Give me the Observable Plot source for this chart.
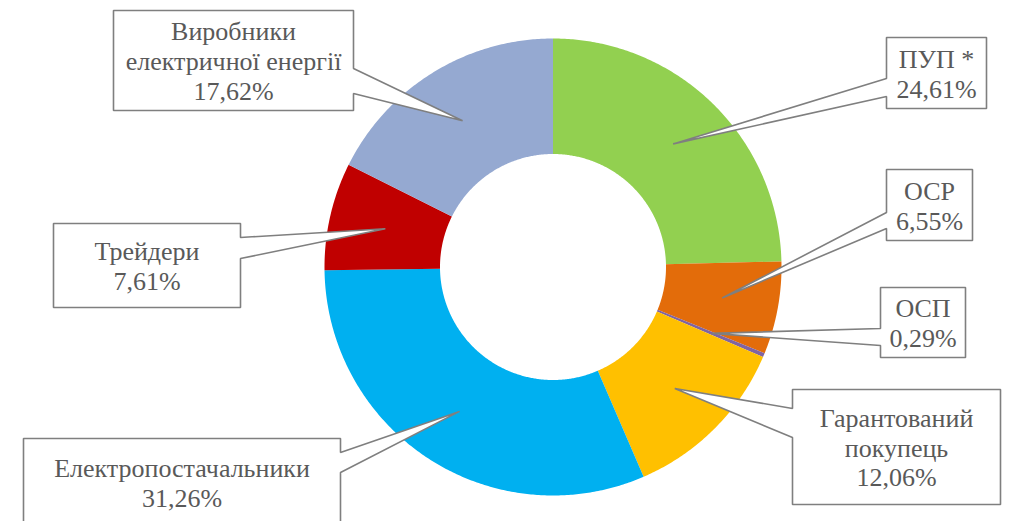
<!DOCTYPE html>
<html>
<head>
<meta charset="utf-8">
<script src="https://cdn.jsdelivr.net/npm/d3@7"></script>
<script src="https://cdn.jsdelivr.net/npm/@observablehq/plot@0.6"></script>
<style>
  html, body { margin: 0; padding: 0; background: #fff; overflow: hidden; }
</style>
</head>
<body>
<div id="chart"></div>
<script>
// ---- data ----
const categories = ["ПУП *", "ОСР", "ОСП", "Гарантований\nпокупець", "Електропостачальники", "Трейдери", "Виробники\nелектричної енергії"];
const shares = [24.61, 6.55, 0.29, 12.06, 31.26, 7.61, 17.62];
const colors = ["#92D050", "#E36C0A", "#8064A2", "#FFC000", "#00B0F0", "#C00000", "#95A9D1"];

// ---- layout (not data) ----
const W = 1023, H = 521;
const cx = 552.5, cy = 266.5, rOut = 228.5, rIn = 113, rTip = 172;
// callout boxes: [x0, x1, y0, y1, side of wedge, wedge y-from, wedge y-to]
const boxes = [
  [886, 986, 37, 108, "left", 78, 96],
  [886, 972, 169, 240, "left", 212, 228],
  [880, 965, 287, 357, "left", 328, 345],
  [792, 1000, 389, 504, "left", 408, 437],
  [23, 340, 438, 530, "right", 452, 472],
  [53, 240, 223, 307, "right", 237, 258],
  [113, 353, 10, 110, "right", 68, 93]
];

const fmt = v => d3.format(".2f")(v).replace(".", ",");
const total = d3.sum(shares);

// slice polygons from the data through d3.pie angles
const pie = d3.pie().sort(null).value(d => d)(shares);
const slicePts = [];
const tips = [];
pie.forEach((p, i) => {
  const a0 = p.startAngle, a1 = p.endAngle;
  const n = Math.max(2, Math.ceil((a1 - a0) / (Math.PI / 360)));
  for (let k = 0; k <= n; k++) {
    const a = a0 + (a1 - a0) * k / n;
    slicePts.push({cat: categories[i], x: cx + rOut * Math.sin(a), y: cy - rOut * Math.cos(a)});
  }
  for (let k = n; k >= 0; k--) {
    const a = a0 + (a1 - a0) * k / n;
    slicePts.push({cat: categories[i], x: cx + rIn * Math.sin(a), y: cy - rIn * Math.cos(a)});
  }
  const am = (a0 + a1) / 2;
  tips.push([cx + rTip * Math.sin(am), cy - rTip * Math.cos(am)]);
});

// callout polygons (box + wedge toward slice centroid)
const calloutPts = [];
const labels = [];
boxes.forEach((b, i) => {
  const [x0, x1, y0, y1, side, w0, w1] = b;
  const [tx, ty] = tips[i];
  let pts;
  if (side === "right") {
    pts = [[x0, y0], [x1, y0], [x1, w0], [tx, ty], [x1, w1], [x1, y1], [x0, y1]];
  } else {
    pts = [[x0, y0], [x1, y0], [x1, y1], [x0, y1], [x0, w1], [tx, ty], [x0, w0]];
  }
  pts.forEach(([x, y]) => calloutPts.push({id: i, x, y}));
  labels.push({x: (x0 + x1) / 2, y: (y0 + Math.min(y1, 526)) / 2, text: categories[i] + "\n" + fmt(shares[i] / total * 100) + "%"});
});

const plot = Plot.plot({
  width: W, height: H,
  marginTop: 0, marginRight: 0, marginBottom: 0, marginLeft: 0,
  x: {domain: [0, W], range: [0, W], axis: null},
  y: {domain: [0, H], range: [0, H], axis: null},
  color: {domain: categories, range: colors},
  marks: [
    Plot.line(slicePts, {x: "x", y: "y", z: "cat", fill: "#000", fillOpacity: 0.3, stroke: null, dy: 2, curve: "linear-closed", ariaLabel: "donut-shadow"}),
    Plot.line(slicePts, {x: "x", y: "y", z: "cat", fill: "cat", curve: "linear-closed"}),
    Plot.line(calloutPts, {x: "x", y: "y", z: "id", fill: "#000", fillOpacity: 0.18, stroke: "#000", strokeOpacity: 0.18, strokeWidth: 1.6, dx: 1.5, dy: 1.5, curve: "linear-closed", ariaLabel: "callout-shadow"}),
    Plot.line(calloutPts, {x: "x", y: "y", z: "id", fill: "#fff", stroke: "#7F7F7F", strokeWidth: 1.6, curve: "linear-closed", strokeLinejoin: "miter"}),
    Plot.text(labels, {x: "x", y: "y", text: "text", fontSize: 26, lineHeight: 1.15, fontFamily: "Liberation Serif", fill: "#595959"})
  ]
});

document.getElementById("chart").appendChild(plot);

// soft blur for the shadow copies only
try {
  const svg = d3.select(plot);
  const defs = svg.insert("defs", ":first-child");
  defs.append("filter").attr("id", "blurA").attr("x", "-30%").attr("y", "-30%").attr("width", "160%").attr("height", "160%")
    .append("feGaussianBlur").attr("stdDeviation", 6);
  defs.append("filter").attr("id", "blurB").attr("x", "-10%").attr("y", "-10%").attr("width", "120%").attr("height", "130%")
    .append("feGaussianBlur").attr("stdDeviation", 1);
  svg.select('g[aria-label="donut-shadow"]').attr("filter", "url(#blurA)");
  svg.select('g[aria-label="callout-shadow"]').attr("filter", "url(#blurB)");
} catch (e) {}
</script>
</body>
</html>
